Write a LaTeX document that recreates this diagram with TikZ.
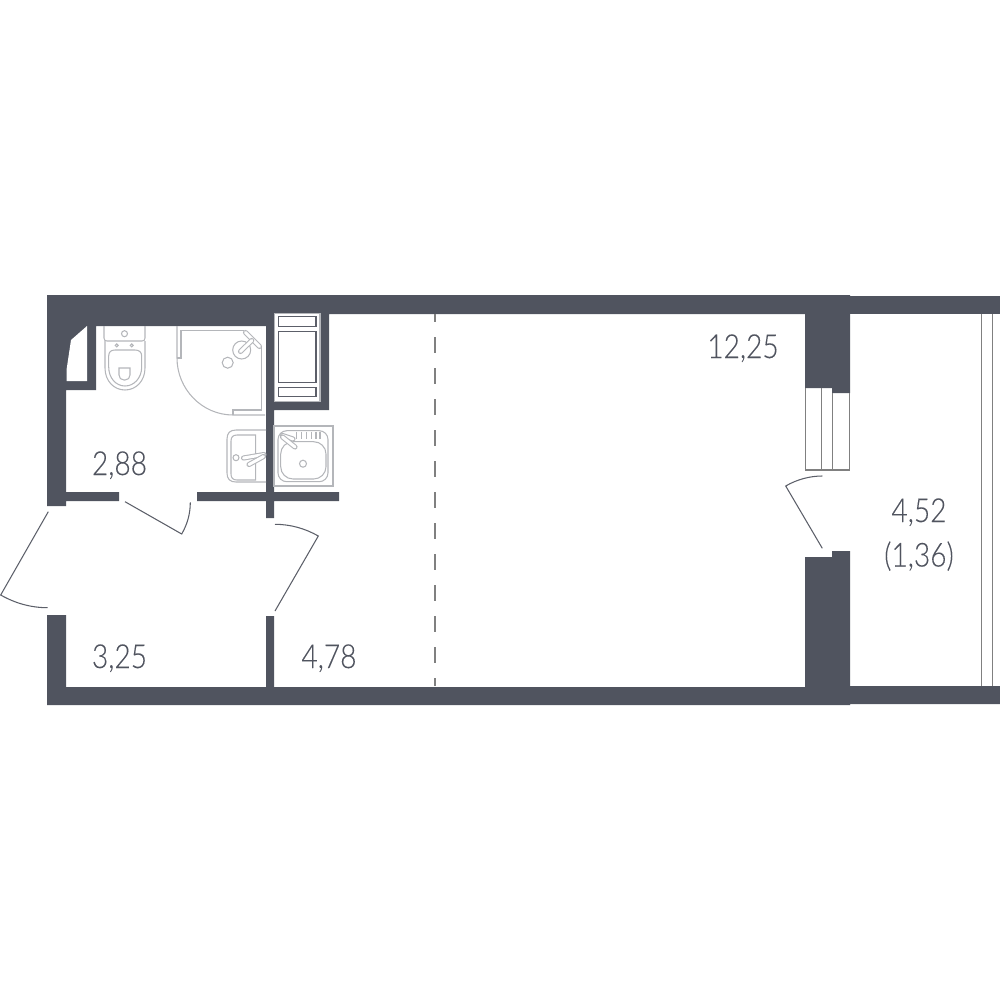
\documentclass[tikz,border=0pt]{standalone}
\usepackage{fontspec}
\setmainfont{Lato Light}[FakeStretch=0.85,FakeBold=0.12]
\definecolor{wallgray}{HTML}{50545F}
\definecolor{fixgray}{HTML}{B4B6BA}
\definecolor{linegray}{HTML}{5C5F69}
\tikzset{
	wall/.style={fill=wallgray,draw=none},
	fixture/.style={draw=fixgray,line width=0.3pt},
	faucet/.style={draw=fixgray,line width=0.3pt,double=white,double distance=0.85pt,line cap=round},
	door/.style={draw=linegray,line width=0.3pt},
	area/.style={text=wallgray,font=\fontsize{9.4}{12}\selectfont,inner sep=0pt,anchor=base}
}
\begin{document}
\begin{tikzpicture}[x=0.01cm,y=-0.01cm]
	\useasboundingbox (0,0) rectangle (1000,1000);

	% Waende
	\fill[wall] (47,295) -- (850,295) -- (850,393) -- (832,393) -- (832,388) -- (805,388) -- (805,314)
		-- (329,314) -- (329,410) -- (274,410) -- (274,492) -- (339,492) -- (339,501) -- (274,501)
		-- (274,518) -- (266,518) -- (266,501) -- (197,501) -- (197,492) -- (266,492) -- (266,326)
		-- (96,326) -- (96,390) -- (66,390) -- (66,492) -- (119,492) -- (119,501) -- (66,501) -- (66,506)
		-- (47,506) -- cycle;
	\fill[white] (274,313.5) rectangle (320,401.5);
	\fill[white] (87,326) -- (71,340) -- (66.5,370) -- (66.5,381) -- (87,381) -- cycle;
	\fill[wall] (850,296) rectangle (1000,314);
	\fill[wall] (47,615) -- (66,615) -- (66,687) -- (266,687) -- (266,616) -- (274,616) -- (274,687)
		-- (805,687) -- (805,557) -- (832,557) -- (832,551) -- (850,551) -- (850,686) -- (1000,686)
		-- (1000,704) -- (850,704) -- (850,705) -- (47,705) -- cycle;

	% Trennlinie
	\draw[gray,line width=0.35pt,dash pattern=on 4.55pt off 4.27pt,dash phase=2.27pt] (435,314) -- (435,686);

	% Tueren
	\draw[door] (48.3,511.7) -- (0.7,595) .. controls (15.3,603.3) and (30.9,607.7) .. (47.7,607.7);
	\draw[door] (125,501.7) -- (181.7,534) .. controls (187.4,524.1) and (190.3,513.7) .. (190.3,502.3);
	\draw[door] (275,611) -- (318.3,536) .. controls (305.1,528.4) and (290.2,524.3) .. (275,524.3);
	\draw[door] (822.3,548.3) -- (785.7,486) .. controls (796.6,479.6) and (809.7,476) .. (822.3,476);

	% Fenster
	\draw[door,draw=gray] (805.7,388) -- (805.7,470) -- (849.3,470) -- (849.3,393);
	\draw[door,draw=gray] (821.7,388) -- (821.7,470);
	\draw[door,draw=gray] (832.3,393) -- (832.3,470);
	\draw[door,draw=gray] (981.7,314) -- (981.7,686);
	\draw[door,draw=gray] (992.3,314) -- (992.3,686);

	% WC
	\draw[fixture] (104,326) -- (104,338) .. controls (104,340) and (105,341) .. (107,341)
		-- (142,341) .. controls (144,341) and (145,340) .. (145,338) -- (145,326);
	\draw[fixture] (124.5,333.7) circle (3);
	\draw[fixture] (116.7,345.3) circle (1.5);
	\draw[fixture] (131.7,345.3) circle (1.5);
	\draw[fixture] (105,341) -- (105,368) .. controls (105,381) and (114,390) .. (125,390)
		.. controls (136,390) and (145,381) .. (145,368) -- (145,341);
	\draw[fixture] (108.7,356) .. controls (108.7,352) and (111,350) .. (115,350) -- (135,350)
		.. controls (139,350) and (141.7,352) .. (141.7,356) -- (141.7,367)
		.. controls (141.7,378) and (134,386) .. (125,386) .. controls (116,386) and (108.7,378) .. (108.7,367) -- cycle;
	\draw[fixture] (119,368) -- (130,368) -- (130,375) .. controls (130,378) and (128,380) .. (125,380)
		-- (124,380) .. controls (121,380) and (119,378) .. (119,375) -- cycle;

	% Dusche
	\draw[fixture] (177,326) -- (177,358) .. controls (177,389) and (202,415) .. (233,415) -- (265,415);
	\draw[fixture] (177,358) -- (181,358) -- (181,330.7) -- (244,330.7);
	\draw[fixture] (261.7,346) -- (261.7,410) -- (233,410) -- (233,415);
	\draw[fixture] (241.7,350) circle (9);
	\draw[fixture] (227.7,362.7) circle (5.5);
	\draw[faucet] (245.5,332.5) -- (259.5,346.5);
	\draw[faucet] (251.7,340.5) -- (240.5,351.5);

	% Waschbecken
	\draw[fixture] (266,430) -- (236,430) .. controls (230,430) and (227,433) .. (227,439) -- (227,473)
		.. controls (227,479) and (230,482) .. (236,482) -- (266,482);
	\draw[fixture] (255.7,435) -- (237,435) .. controls (233,435) and (231,437) .. (231,441) -- (231,474)
		.. controls (231,478) and (233,480) .. (237,480) -- (255.7,480) -- cycle;
	\draw[fixture] (236,457.7) circle (3);
	\draw[faucet] (243.5,458) -- (264,454.5);
	\draw[faucet] (249,464.5) -- (263.5,456.5);

	% Spuele
	\draw[fixture] (274,426) rectangle (333,486);
	\draw[fixture,rounded corners=2.5] (278,430.7) rectangle (328,481.7);
	\draw[fixture,rounded corners=3.5] (280.7,441.7) rectangle (326,479);
	\draw[fixture] (303,463.7) circle (3.5);
	\foreach \xpos in {296.7,301.7,306.7,311.7,316,320}
		\draw[fixture] (\xpos,431.7) -- (\xpos,439);
	\draw[faucet] (282.5,435.5) -- (293,439);
	\draw[faucet] (282.5,437) -- (295,447);

	% Einbaugeraet
	\draw[fixture] (274.3,313.5) rectangle (320,401.5);
	\draw[door,line width=0.4pt] (278.3,316.7) rectangle (316,326.7);
	\draw[door,line width=0.4pt] (278.3,331.7) rectangle (316,382.7);
	\draw[door,line width=0.4pt] (278.3,387.3) rectangle (316,396.7);

	% Flaechen
	\node[area] (flur) at (119.5,668) {3,25};
	\node[area] (bad) at (119.5,475) {2,88};
	\node[area] (kueche) at (329,668) {4,78};
	\node[area] (wohnen) at (743,358) {12,25};
	\node[area] (balkon) at (919,522) {4,52};
	\node[area] (balkonred) at (919,566.5) {(1,36)};
\end{tikzpicture}
\end{document}
